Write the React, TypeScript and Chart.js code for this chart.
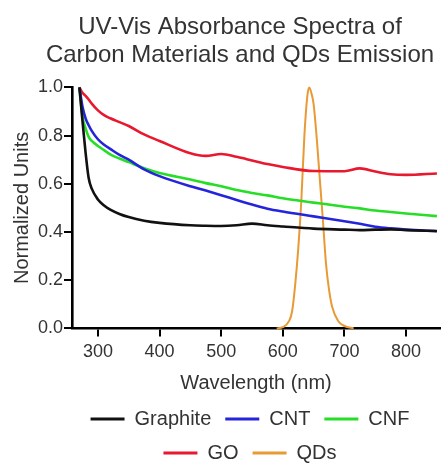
import React, { useEffect, useRef } from "react";
import { Chart, registerables } from "chart.js";

Chart.register(...registerables);

const TITLE_LINES = ["UV-Vis Absorbance Spectra of", "Carbon Materials and QDs Emission"];
const X_TITLE = "Wavelength (nm)";
const Y_TITLE = "Normalized Units";

const X_TICKS = [300, 400, 500, 600, 700, 800];
const Y_TICKS = [0, 0.2, 0.4, 0.6, 0.8, 1.0];

// Shared wavelength grid of the four absorbance spectra (nm)
const absWavelengths = [270, 275, 280, 285, 290, 300, 310, 320, 335, 350, 375, 400, 450, 475, 500, 525, 550, 575, 600, 650, 700, 725, 750, 775, 800, 850];

const graphite = [1.0, 0.86, 0.73, 0.624, 0.58, 0.535, 0.51, 0.493, 0.475, 0.462, 0.447, 0.438, 0.428, 0.426, 0.425, 0.428, 0.435, 0.428, 0.423, 0.414, 0.41, 0.408, 0.41, 0.411, 0.408, 0.404];
const cnt = [1.0, 0.92, 0.872, 0.843, 0.82, 0.785, 0.762, 0.745, 0.72, 0.7, 0.66, 0.632, 0.59, 0.572, 0.553, 0.533, 0.514, 0.497, 0.485, 0.465, 0.445, 0.434, 0.422, 0.415, 0.41, 0.403];
const cnf = [1.0, 0.88, 0.83, 0.795, 0.778, 0.757, 0.74, 0.722, 0.705, 0.69, 0.665, 0.645, 0.618, 0.603, 0.59, 0.574, 0.562, 0.552, 0.54, 0.522, 0.505, 0.498, 0.489, 0.483, 0.477, 0.466];
const go = [1.0, 0.978, 0.965, 0.95, 0.933, 0.905, 0.885, 0.872, 0.856, 0.84, 0.805, 0.778, 0.727, 0.716, 0.724, 0.712, 0.697, 0.682, 0.67, 0.653, 0.652, 0.664, 0.651, 0.64, 0.637, 0.643];

// QDs emission
const qdWavelengths = [590, 600, 610, 615, 620, 625, 630, 635, 640, 643, 647, 650, 655, 660, 665, 670, 675, 680, 690, 700, 715];
const qdValues = [0, 0.005, 0.03, 0.07, 0.18, 0.33, 0.53, 0.8, 0.97, 1.0, 0.97, 0.93, 0.79, 0.62, 0.45, 0.27, 0.16, 0.09, 0.03, 0.01, 0];

const SERIES_NAMES = ["Graphite", "CNT", "CNF", "GO", "QDs"];
const SERIES_COLORS = ["#111111", "#2424dc", "#26de26", "#e8182e", "#e89a35"];

const FONT = "'Liberation Sans', Arial, Helvetica, sans-serif";

const toPoints = (xs: number[], ys: number[]) => xs.map((x, i) => ({ x, y: ys[i] }));

const shiftPlugin = {
  id: "shiftBlocks",
  afterLayout(chart: any) {
    const t = chart.titleBlock;
    if (t) {
      t.left += 20;
      t.right += 20;
    }
    const l = chart.legend;
    if (l) {
      l.left -= 6;
      l.right -= 6;
    }
  },
};

export default function App() {
  const ref = useRef<HTMLCanvasElement | null>(null);

  useEffect(() => {
    if (!ref.current) return;
    const seriesValues = [graphite, cnt, cnf, go];
    const datasets: any[] = seriesValues.map((vals, i) => ({
      label: SERIES_NAMES[i],
      data: toPoints(absWavelengths, vals),
      borderColor: SERIES_COLORS[i],
      backgroundColor: SERIES_COLORS[i],
      borderWidth: 2.6,
      pointRadius: 0,
      cubicInterpolationMode: "monotone",
      clip: false,
    }));
    datasets.push({
      label: SERIES_NAMES[4],
      data: toPoints(qdWavelengths, qdValues),
      borderColor: SERIES_COLORS[4],
      backgroundColor: SERIES_COLORS[4],
      borderWidth: 2,
      pointRadius: 0,
      cubicInterpolationMode: "monotone",
      clip: false,
    });

    const chart = new Chart(ref.current, {
      type: "line",
      data: { datasets },
      plugins: [shiftPlugin],
      options: {
        animation: false,
        responsive: true,
        maintainAspectRatio: false,
        layout: { padding: { left: 0, right: 1, top: 0, bottom: -10 } },
        plugins: {
          title: {
            display: true,
            text: TITLE_LINES,
            color: "#333",
            font: { family: FONT, size: 24, weight: "normal", lineHeight: 1.17 },
            padding: { top: 13, bottom: 18.3 },
          },
          legend: {
            display: true,
            position: "bottom",
            fullSize: false,
            labels: {
              color: "#333",
              font: { family: FONT, size: 20 },
              boxWidth: 34,
              boxHeight: 3,
              padding: 14,
              generateLabels: (c: any) =>
                Chart.defaults.plugins.legend.labels
                  .generateLabels(c)
                  .map((it: any) => ({ ...it, lineWidth: 0, fillStyle: it.strokeStyle })),
            },
          },
          tooltip: { enabled: false },
        },
        scales: {
          x: {
            type: "linear",
            min: 258,
            max: 855,
            afterBuildTicks: (axis: any) => {
              axis.ticks = X_TICKS.map((v) => ({ value: v }));
            },
            ticks: {
              color: "#333",
              font: { family: FONT, size: 18 },
              padding: 5,
              maxRotation: 0,
            },
            grid: {
              display: true,
              drawOnChartArea: false,
              drawTicks: true,
              tickLength: 8,
              color: "#000",
              lineWidth: 2,
            },
            border: { display: true, color: "#000", width: 2.6 },
            title: {
              display: true,
              text: X_TITLE,
              color: "#333",
              font: { family: FONT, size: 20 },
              padding: { top: 3, bottom: 0 },
            },
          },
          y: {
            type: "linear",
            min: 0,
            max: 1,
            afterBuildTicks: (axis: any) => {
              axis.ticks = Y_TICKS.map((v) => ({ value: v }));
            },
            ticks: {
              color: "#333",
              font: { family: FONT, size: 18 },
              padding: 1,
              callback: (v: any) => Number(v).toFixed(1),
            },
            grid: {
              display: true,
              drawOnChartArea: false,
              drawTicks: true,
              tickLength: 8,
              color: "#000",
              lineWidth: 2,
            },
            border: { display: true, color: "#000", width: 2.6 },
            title: {
              display: true,
              text: Y_TITLE,
              color: "#333",
              font: { family: FONT, size: 20 },
              padding: { top: 10.8, bottom: 2.2 },
            },
          },
        },
      } as any,
    });
    return () => chart.destroy();
  }, []);

  return (
    <div style={{ position: "fixed", left: 0, top: 0, width: 441, height: 463, background: "#fff" }}>
      <canvas ref={ref} />
    </div>
  );
}
